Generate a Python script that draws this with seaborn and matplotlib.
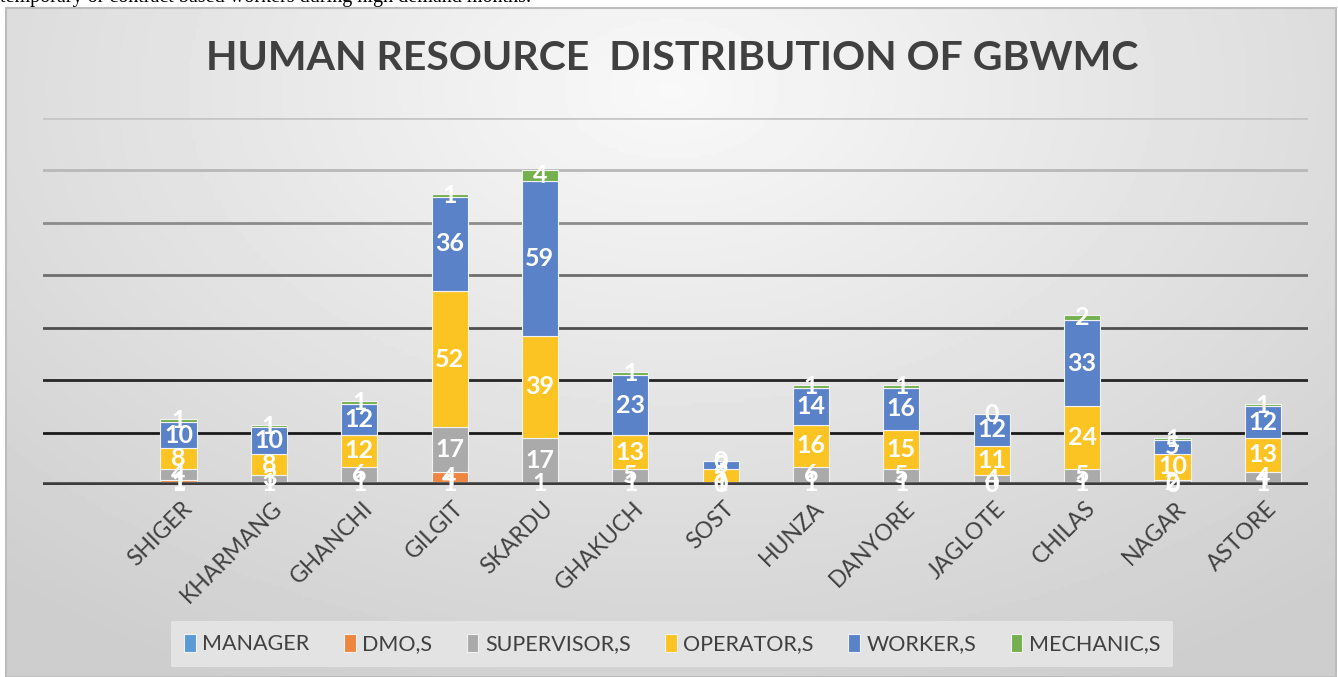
import numpy as np
import pandas as pd
import matplotlib
matplotlib.use("Agg")
import matplotlib.pyplot as plt
from matplotlib import transforms
import seaborn as sns

districts = ["SHIGER", "KHARMANG", "GHANCHI", "GILGIT", "SKARDU", "GHAKUCH", "SOST",
             "HUNZA", "DANYORE", "JAGLOTE", "CHILAS", "NAGAR", "ASTORE"]
manager = [1, 1, 1, 1, 1, 1, 0, 1, 1, 0, 1, 0, 1]
dmo = [1, 0, 0, 4, 0, 0, 0, 0, 0, 0, 0, 0, 0]
supervisor = [4, 3, 6, 17, 17, 5, 1, 6, 5, 4, 5, 2, 4]
operator = [8, 8, 12, 52, 39, 13, 5, 16, 15, 11, 24, 10, 13]
worker = [10, 10, 12, 36, 59, 23, 3, 14, 16, 12, 33, 5, 12]
mechanic = [1, 1, 1, 1, 4, 1, 0, 1, 1, 0, 2, 1, 1]

series_names = ["MANAGER", "DMO,S", "SUPERVISOR,S", "OPERATOR,S", "WORKER,S", "MECHANIC,S"]
series_colors = ["#5b9bd5", "#ee8640", "#aaaaaa", "#fcc423", "#5a82c9", "#74b04e"]
# dmo only has entries for two districts, the rest are blank cells (no label)
dmo_blank = [v == 0 for v in dmo]

title = "HUMAN RESOURCE  DISTRIBUTION OF GBWMC"
page_text = "temporary or contract based workers during high demand months."

df = pd.DataFrame({
    "district": districts,
    "MANAGER": manager,
    "DMO,S": dmo,
    "SUPERVISOR,S": supervisor,
    "OPERATOR,S": operator,
    "WORKER,S": worker,
    "MECHANIC,S": mechanic,
})

sns.set_theme(style="white")
plt.rcParams["font.family"] = ["Lato", "DejaVu Sans"]

W, H = 1338, 677
fig = plt.figure(figsize=(W / 100, H / 100), dpi=100)
fig.patch.set_facecolor("white")

# chart frame with soft radial shading
bg = fig.add_axes([6 / W, 0, 1330 / W, 669 / H], zorder=-10)
yy, xx = np.mgrid[0:1:200j, 0:1:400j]
d = np.sqrt(((xx - 0.5) * 1.3) ** 2 + (yy - 0.12) ** 2)
shade = 0.975 - 0.17 * np.clip(d, 0, 1)
bg.imshow(shade, cmap="gray", vmin=0, vmax=1, aspect="auto", extent=(0, 1, 1, 0))
bg.set_xticks([])
bg.set_yticks([])
for s in bg.spines.values():
    s.set_color("#bdbdbd")
    s.set_linewidth(1.5)

fig.text(0.0, 1 - 2 / H, page_text, ha="left", va="baseline", fontsize=14.5,
         family=["Liberation Serif", "DejaVu Serif"], color="black")

ax = fig.add_axes([43 / W, 192 / H, 1265 / W, 367 / H])
ax.patch.set_alpha(0)

bottom = np.zeros(len(districts))
handles = []
for name, color in zip(series_names, series_colors):
    vals = df[name].to_numpy()
    sns.barplot(data=df, x="district", y=name, order=districts, bottom=bottom,
                color=color, saturation=1, width=0.4, errorbar=None,
                edgecolor="#f2f2f2", linewidth=0.8, ax=ax, zorder=2)
    cont = ax.containers[-1]
    handles.append(cont)
    if name == "DMO,S":
        labels = ["" if blank else str(v) for v, blank in zip(vals, dmo_blank)]
    else:
        labels = [str(v) for v in vals]
    ax.bar_label(cont, labels=labels, label_type="center", color="white",
                 fontsize=18, fontweight="bold", zorder=6)
    bottom = bottom + vals

ax.set_xlim(-1.5, len(districts) - 0.5)
ax.set_ylim(0, 140)
ax.set_yticks(range(0, 141, 20))
ax.set_yticklabels([])
ax.set_xlabel("")
ax.set_ylabel("")
ax.set_axisbelow(True)
ax.yaxis.grid(True, linewidth=2)
grid_colors = ["#3c3c3c", "#1a1a1a", "#262626", "#4e4e4e", "#6e6e6e", "#8c8c8c", "#b8b8b8", "#c6c6c6"]
for line, c in zip(ax.get_ygridlines(), grid_colors):
    line.set_color(c)
ax.axhline(0, color="#3c3c3c", linewidth=4, zorder=3)
sns.despine(ax=ax, left=True, bottom=True)

ax.tick_params(axis="both", length=0, pad=0)
ax.set_xticks(range(len(districts)))
ax.set_xticklabels(districts, rotation=45, ha="right", va="center",
                   rotation_mode="anchor", fontsize=16.5, color="#404040")
offset = transforms.ScaledTranslation(0.1, -0.2, fig.dpi_scale_trans)
for lbl in ax.get_xticklabels():
    lbl.set_transform(lbl.get_transform() + offset)

fig.text(672 / W, 1 - 58 / H, title, ha="center", va="center", fontsize=29.5,
         fontweight="bold", color="#404040")

leg = fig.legend(handles, series_names, loc="center", bbox_to_anchor=(672 / W, 1 - 644 / H),
                 ncol=6, frameon=True, fancybox=False, facecolor="#e3e3e3", edgecolor="none",
                 framealpha=1, fontsize=15.5, handlelength=0.55, handleheight=0.9,
                 handletextpad=0.3, columnspacing=1.6, borderpad=0.6, labelcolor="#404040")

fig.savefig("out.png", dpi=100)
